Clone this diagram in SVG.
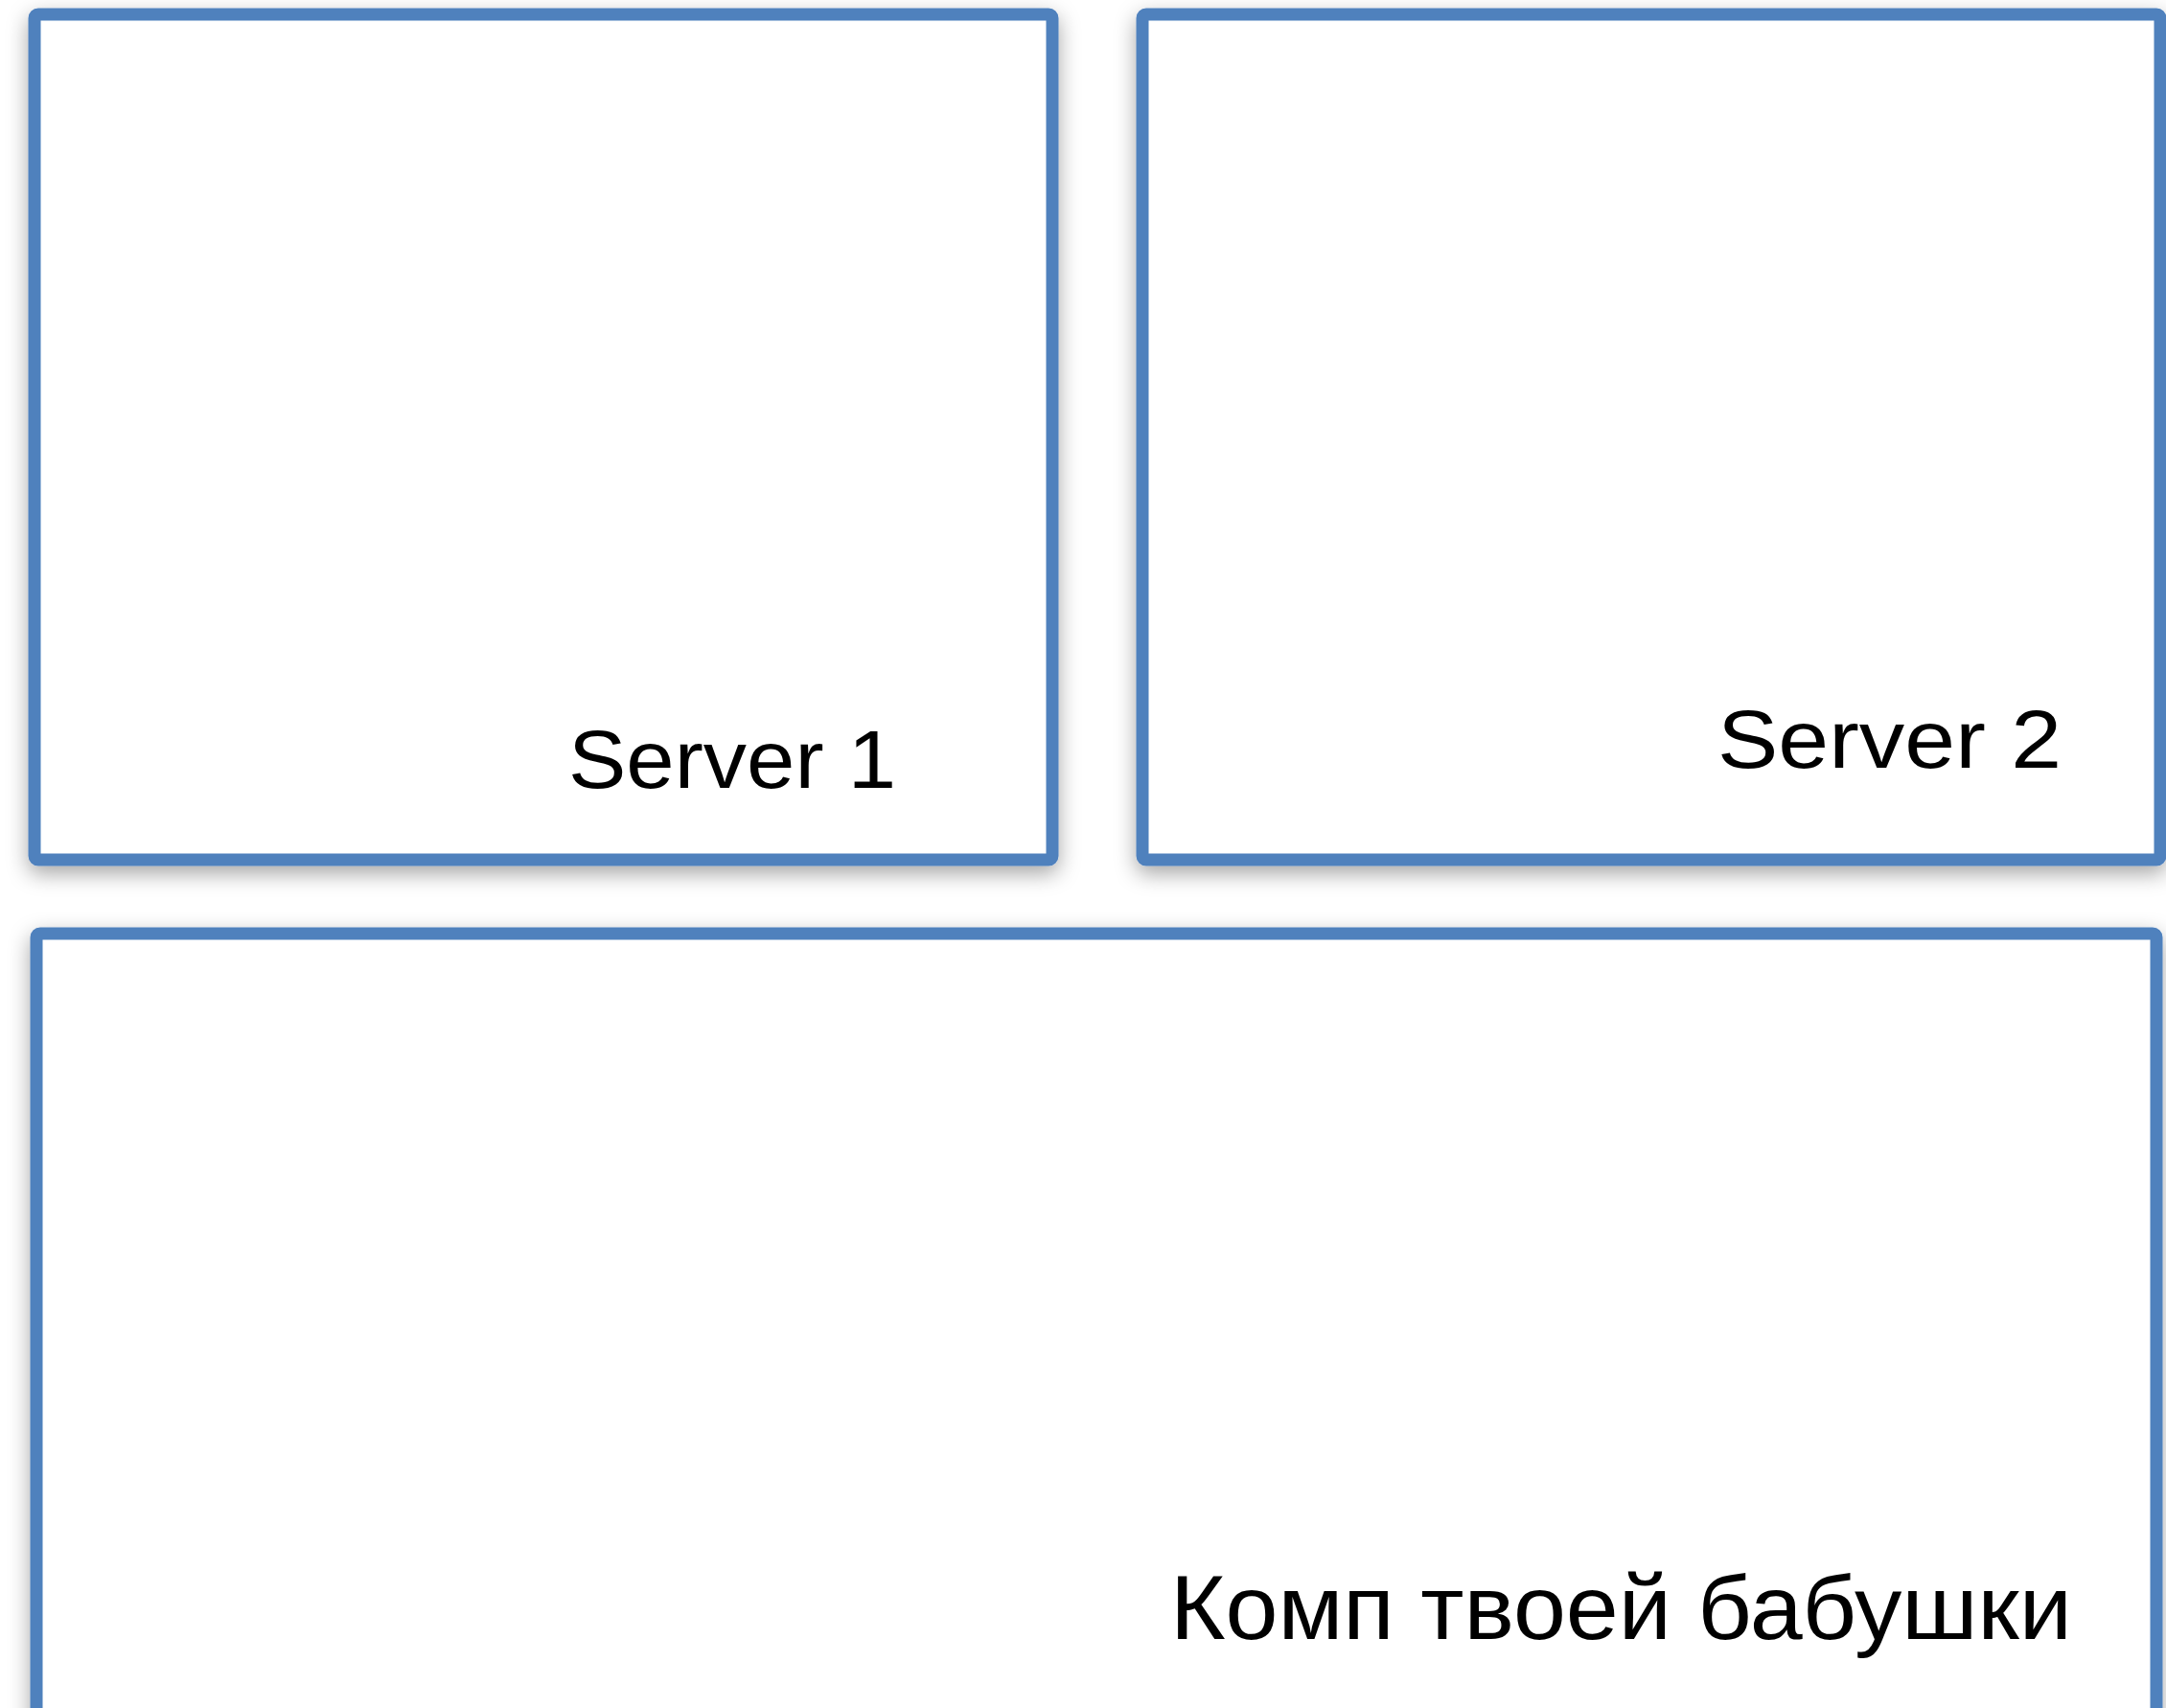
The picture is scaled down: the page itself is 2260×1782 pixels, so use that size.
<svg xmlns="http://www.w3.org/2000/svg" width="2260" height="1782" viewBox="0 0 2260 1782">
<defs>
<filter id="sh" x="-5%" y="-5%" width="110%" height="115%">
<feDropShadow dx="0" dy="8" stdDeviation="11" flood-color="#000" flood-opacity="0.35"/>
</filter>
<style>
.box{fill:#fff;stroke:#4F81BD;stroke-width:13;filter:url(#sh)}
.lbl{font-family:"Liberation Sans",Arial,sans-serif;fill:#000}
</style>
</defs>
<rect width="2260" height="1782" fill="#fff"/>
<g id="server1">
<rect class="box" x="36" y="15" width="1062" height="882" rx="4"/>
<text class="lbl" x="593" y="822" font-size="85" textLength="342" lengthAdjust="spacingAndGlyphs">Server 1</text>
</g>
<g id="server2">
<rect class="box" x="1192" y="15" width="1062" height="882" rx="4"/>
<text class="lbl" x="1792" y="801" font-size="85" textLength="359" lengthAdjust="spacingAndGlyphs">Server 2</text>
</g>
<g id="komp">
<rect class="box" x="38" y="974" width="2212" height="820" rx="4"/>
<text class="lbl" x="1221" y="1710" font-size="95" textLength="941" lengthAdjust="spacingAndGlyphs">Комп твоей бабушки</text>
</g>
<g id="connectors"></g>
</svg>
